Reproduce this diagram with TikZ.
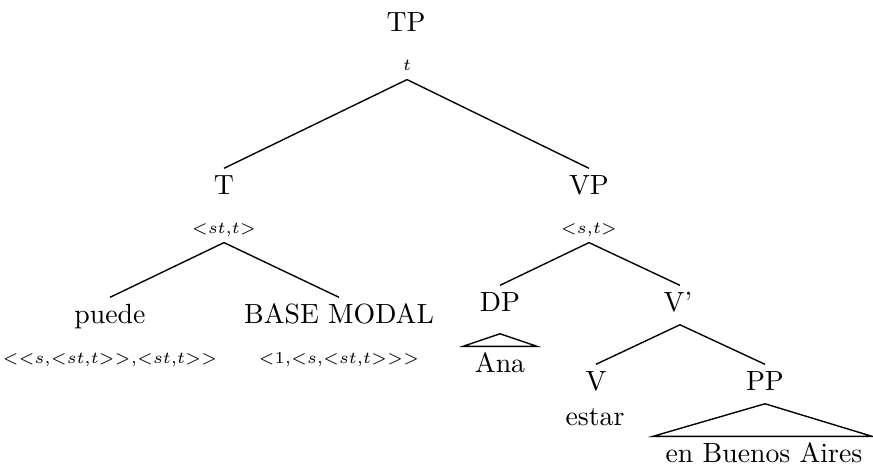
\documentclass[tikz,border=0pt]{standalone}
\usetikzlibrary{calc}
\newcommand\myL{\mathord{<}}
\newcommand\myR{\mathord{>}}
\newcommand\cm{\mathord{,}}
\begin{document}
\begin{tikzpicture}[x=0.36pt,y=-0.36pt,
  cat/.style={anchor=base,font=\normalsize,text height=7pt,text depth=2pt,inner xsep=1pt,inner ysep=2.4pt},
  typ/.style={anchor=base,font=\fontsize{6.3}{8}\selectfont,text depth=1pt,inner xsep=1pt,inner ysep=1.9pt},
  edge/.style={draw=black,line width=0.5pt}]
\useasboundingbox (0,0) rectangle (873,466);
% nodes
\node[cat] (TP) at (406,32) {TP};
\node[typ] (tTP) at (407,71) {$t$};
\node[cat] (T) at (224,195) {T};
\node[typ] (tT) at (224,234) {$\myL st\cm t\myR$};
\node[cat] (VP) at (589,195) {VP};
\node[typ] (tVP) at (589,234) {$\myL s\cm t\myR$};
\node[cat] (puede) at (110,324) {puede};
\node[typ] (tpuede) at (110,364) {$\myL\myL s\cm\myL st\cm t\myR\myR\cm\myL st\cm t\myR\myR$};
\node[cat] (BM) at (339,324) {BASE MODAL};
\node[typ] (tBM) at (339,364) {$\myL 1\cm\myL s\cm\myL st\cm t\myR\myR\myR$};
\node[cat] (DP) at (500,312) {DP};
\node[cat] (Vbar) at (678,312) {V'};
\node[cat] (Ana) at (500,373) {Ana};
\node[cat] (V) at (596,391) {V};
\node[cat] (estar) at (595,426) {estar};
\node[cat] (PP) at (765,391) {PP};
\node[cat] (EBA) at (764,463) {en Buenos Aires};
% edges
\draw[edge] (tTP.south) -- (T.north);
\draw[edge] (tTP.south) -- (VP.north);
\draw[edge] (tT.south) -- (puede.north);
\draw[edge] (tT.south) -- (BM.north);
\draw[edge] (tVP.south) -- (DP.north);
\draw[edge] (tVP.south) -- ([xshift=0.7pt]Vbar.north);
\draw[edge] ([xshift=0.7pt]Vbar.south) -- (V.north);
\draw[edge] ([xshift=0.7pt]Vbar.south) -- (PP.north);
% triangles
\coordinate (DPtop) at ($(DP.south)+(0,9)$);
\coordinate (DPl) at ($(Ana.north)+(-37,0)$);
\coordinate (DPr) at ($(Ana.north)+(37,0)$);
\draw[edge] (DPtop) -- (DPl) -- (DPr) -- cycle;
\coordinate (PPtop) at (PP.south);
\coordinate (PPl) at ($(EBA.north)+(-111,0)$);
\coordinate (PPr) at ($(EBA.north)+(108,0)$);
\draw[edge] (PPtop) -- (PPl) -- (PPr) -- cycle;
\end{tikzpicture}
\end{document}
